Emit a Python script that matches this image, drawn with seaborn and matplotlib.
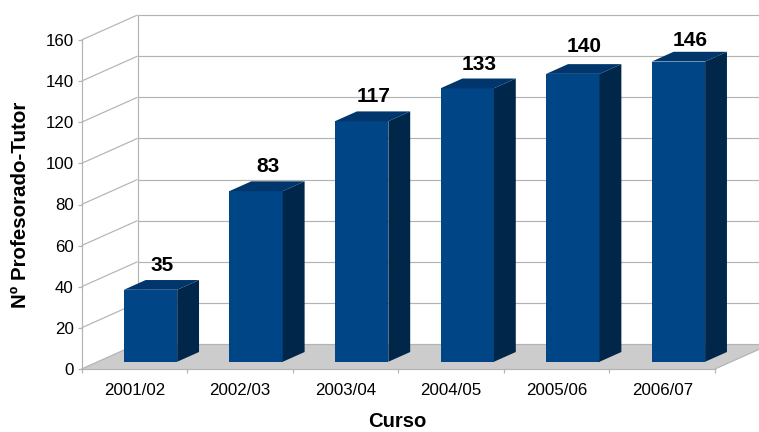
import matplotlib
matplotlib.use("Agg")
import matplotlib.pyplot as plt
from matplotlib.patches import Polygon
import seaborn as sns
import pandas as pd

cursos = ["2001/02", "2002/03", "2003/04", "2004/05", "2005/06", "2006/07"]
profesores = [35, 83, 117, 133, 140, 146]
y_ticks = [0, 20, 40, 60, 80, 100, 120, 140, 160]
label_nudge_px = [9, 9, 9, 9, 12, 6]

W, H = 759, 432
L, R, T, B = 81.5, 715.0, 40.0, 369.0
GRID = "#b3b3b3"
FRONT, TOP, SIDE = "#004586", "#00366b", "#002649"
LW = 0.85

sns.set_style("white")
plt.rcParams["font.family"] = ["Liberation Sans", "DejaVu Sans"]

fig = plt.figure(figsize=(W / 100, H / 100), dpi=100, facecolor="white")
ax = fig.add_axes([L / W, (H - B) / H, (R - L) / W, (B - T) / H])

df = pd.DataFrame({"Curso": cursos, "Prof": profesores})
sns.barplot(data=df, x="Curso", y="Prof", color=FRONT, saturation=1,
            width=0.505, ax=ax, zorder=4, linewidth=0)
ax.set_xlim(-0.5, len(cursos) - 0.5)
ax.set_ylim(0, 160)

# oblique projection of depth, in data units
cat_px = (R - L) / len(cursos)
val_px = (B - T) / 160
dx_wall = 56 / cat_px
dy_wall = 25 / val_px
d0, d1 = 0.29, 0.68
x0, x1 = -0.5, len(cursos) - 0.5

# floor
ax.add_patch(Polygon([(x0, 0), (x1, 0), (x1 + dx_wall, dy_wall), (x0 + dx_wall, dy_wall)],
                     closed=True, fc="#cccccc", ec="none", clip_on=False, zorder=1))
# walls and grid
for v in y_ticks:
    ax.plot([x0, x0 + dx_wall], [v, v + dy_wall], color=GRID, lw=LW, clip_on=False, zorder=2,
            solid_capstyle="butt")
    ax.plot([x0 + dx_wall, x1 + dx_wall], [v + dy_wall] * 2, color=GRID, lw=LW, clip_on=False,
            zorder=2, solid_capstyle="butt")
ax.plot([x0 + dx_wall] * 2, [dy_wall, 160 + dy_wall], color=GRID, lw=LW, clip_on=False, zorder=2)
ax.plot([x1, x1 + dx_wall], [0, dy_wall], color=GRID, lw=LW, clip_on=False, zorder=2)

# bars: shift the front faces and add side and top faces
sx0, sy0 = d0 * dx_wall, d0 * dy_wall
ddx, ddy = (d1 - d0) * dx_wall, (d1 - d0) * dy_wall
for p, v, nudge in zip(ax.patches, profesores, label_nudge_px):
    p.set_x(p.get_x() + sx0)
    p.set_y(sy0)
    p.set_clip_on(False)
    xa, xb = p.get_x(), p.get_x() + p.get_width()
    yt = sy0 + v
    ax.add_patch(Polygon([(xb, sy0), (xb + ddx, sy0 + ddy), (xb + ddx, yt + ddy), (xb, yt)],
                         closed=True, fc=SIDE, ec="none", clip_on=False, zorder=4))
    ax.add_patch(Polygon([(xa, yt), (xa + ddx, yt + ddy), (xb + ddx, yt + ddy), (xb, yt)],
                         closed=True, fc=TOP, ec="none", clip_on=False, zorder=4))
    ax.annotate(str(v), xy=((xa + xb) / 2 + ddx / 2, yt + ddy), xytext=(0.4, nudge * 0.72),
                textcoords="offset points", ha="center", va="baseline",
                fontsize=15, fontweight="bold", color="black", zorder=6, annotation_clip=False)

# axes
for s in ["top", "right"]:
    ax.spines[s].set_visible(False)
for s in ["left", "bottom"]:
    ax.spines[s].set_color(GRID)
    ax.spines[s].set_linewidth(LW)
    ax.spines[s].set_zorder(3)
ax.set_yticks(y_ticks)
ax.set_xticks(range(len(cursos)))
ax.set_xticklabels(cursos)
ax.set_xticks([i - 0.5 for i in range(len(cursos) + 1)], minor=True)
ax.tick_params(axis="x", which="major", length=0, pad=10, labelsize=12.2, colors="black")
ax.tick_params(axis="x", which="minor", length=3.2, width=LW, color=GRID, bottom=True)
ax.tick_params(axis="y", which="major", length=3.2, width=LW, color=GRID, pad=2.5,
               labelsize=12.2, left=True, labelcolor="black")
ax.grid(False)
ax.set_xlabel("Curso", fontsize=14.6, fontweight="bold", va="center", color="black")
ax.set_ylabel("Nº Profesorado-Tutor", fontsize=14.8, fontweight="bold", va="center", color="black")
ax.xaxis.set_label_coords((397 - L) / (R - L), (B - 421.5) / (B - T))
ax.yaxis.set_label_coords((21 - L) / (R - L), (B - 205) / (B - T))

fig.savefig("out.png", dpi=100)
